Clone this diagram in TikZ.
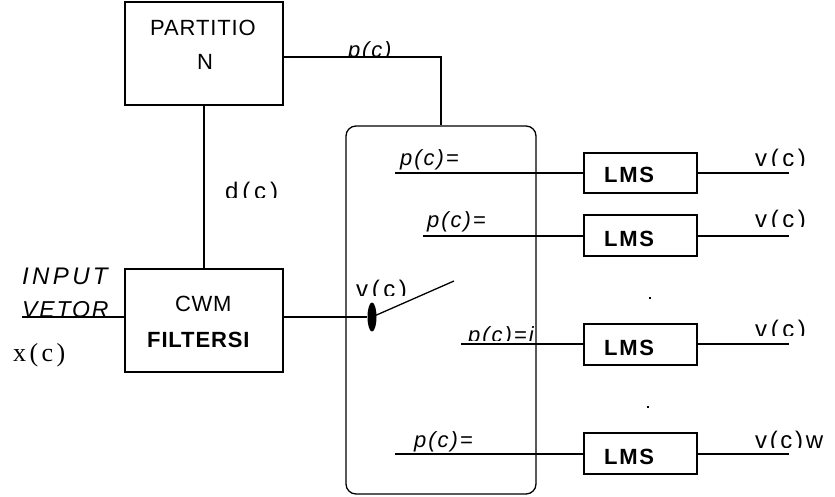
\documentclass[tikz,border=0pt]{standalone}
\usepackage{fontspec}
\setmainfont{Liberation Sans}
\newfontfamily\serifx{Liberation Serif}
\usetikzlibrary{shapes.geometric}
\tikzset{
  box/.style={draw, line width=1.3pt, inner sep=0pt},
  wire/.style={line width=1.3pt},
  lbl/.style={inner sep=0pt, anchor=base},
  lbll/.style={inner sep=0pt, anchor=base west},
  fs/.style 2 args={font=\fontsize{#1}{#1}\selectfont\addfontfeature{LetterSpace=#2}},
  fi/.style 2 args={font=\fontsize{#1}{#1}\selectfont\itshape\addfontfeature{LetterSpace=#2}},
  fb/.style 2 args={font=\fontsize{#1}{#1}\selectfont\bfseries\addfontfeature{LetterSpace=#2}},
  dotmark/.style={fill, inner sep=0pt, minimum size=2pt},
}
\begin{document}
\begin{tikzpicture}[x=1pt, y=-1pt]
\useasboundingbox (0,0) rectangle (835,497);

% blocks
\node[box, minimum width=158pt, minimum height=103pt] (part) at (204,53.5) {};
\node[box, minimum width=158pt, minimum height=103pt] (cwm) at (204,320.5) {};
\node[box, rounded corners=10pt, minimum width=190pt, minimum height=368pt] (sel) at (441,310) {};
\node[box, minimum width=113pt, minimum height=40pt] (lms1) at (640.5,173) {};
\node[box, minimum width=113pt, minimum height=41pt] (lms2) at (640.5,235.5) {};
\node[box, minimum width=113pt, minimum height=41pt] (lms3) at (640.5,344.5) {};
\node[box, minimum width=113pt, minimum height=41pt] (lms4) at (640.5,453.5) {};

% block texts
\node[lbll, fs={22}{4}] (t1) at (150,36) {PARTITIO};
\node[lbl, fs={22}{0}] (t2) at (205,70) {N};
\node[lbll, fs={22}{3}] (t3) at (175,311) {CWM};
\node[lbll, fb={22}{4}] (t4) at (147,347) {FILTERSI};
\node[lbll, fb={22}{8}] (l1) at (604,183) {LMS};
\node[lbll, fb={22}{8}] (l2) at (604,246) {LMS};
\node[lbll, fb={22}{8}] (l3) at (604,355) {LMS};
\node[lbll, fb={22}{8}] (l4) at (604,464) {LMS};

% connections
\coordinate (pc) at (441,57);
\draw[wire] (part.east |- pc) -- (pc) -- (pc |- sel.north);
\draw[wire] (part.south) -- (cwm.north);
\coordinate (in) at (22,317);
\draw[wire] (in) -- (in -| cwm.west);
\node[ellipse, fill, inner sep=0pt, minimum width=9pt, minimum height=29pt] (contact) at (372,317) {};
\draw[wire] (cwm.east |- contact) -- (contact.west);
\coordinate (swend) at (454,281);
\draw[wire] (contact.center) -- (swend);

\coordinate (r1) at (395,173);
\coordinate (r2) at (423,236);
\coordinate (r3) at (461,344);
\coordinate (r4) at (395,454);
\draw[wire] (r1) -- (r1 -| lms1.west);
\draw[wire] (r2) -- (r2 -| lms2.west);
\draw[wire] (r3) -- (r3 -| lms3.west);
\draw[wire] (r4) -- (r4 -| lms4.west);
\coordinate (o1) at (789,173);
\coordinate (o2) at (789,236);
\coordinate (o3) at (789,344);
\coordinate (o4) at (789,454);
\draw[wire] (o1 -| lms1.east) -- (o1);
\draw[wire] (o2 -| lms2.east) -- (o2);
\draw[wire] (o3 -| lms3.east) -- (o3);
\draw[wire] (o4 -| lms4.east) -- (o4);

\node[dotmark] (dt1) at (650,298) {};
\node[dotmark] (dt2) at (648,407) {};

% signal labels
\node[lbll, fi={24}{14}] (inp) at (22,284) {INPUT};
\node[lbll, fi={23}{8}] (vet) at (22,317) {VETOR};
\node[lbll, font=\fontsize{26}{26}\selectfont\serifx\addfontfeature{LetterSpace=13}] (xc) at (13,361) {x(c)};

\begin{scope}
  \clip (340,30) rectangle (410,56);
  \node[lbll, fi={22}{8}] (ptop) at (348,58) {p(c)};
\end{scope}
\begin{scope}
  \clip (220,170) rectangle (290,197.5);
  \node[lbll, fs={24}{16}] (dc) at (225,200) {d(c)};
\end{scope}
\node[lbll, fi={22}{9}] (p1) at (400,166) {p(c)=};
\node[lbll, fi={22}{9}] (p2) at (427,227) {p(c)=};
\begin{scope}
  \clip (460,315) rectangle (545,340);
  \node[lbll, fi={22}{9}] (p3) at (468,342) {p(c)=i};
\end{scope}
\node[lbll, fi={22}{9}] (p4) at (414,447) {p(c)=};
\begin{scope}
  \clip (350,265) rectangle (415,295);
  \node[lbll, fs={24}{15}] (vsw) at (356,297) {v(c)};
\end{scope}
\begin{scope}
  \clip (750,130) rectangle (835,166);
  \node[lbll, fs={24}{15}] (v1) at (755,167) {v(c)};
\end{scope}
\begin{scope}
  \clip (750,195) rectangle (835,226);
  \node[lbll, fs={24}{15}] (v2) at (755,227) {v(c)};
\end{scope}
\begin{scope}
  \clip (750,305) rectangle (835,335);
  \node[lbll, fs={24}{15}] (v3) at (755,337) {v(c)};
\end{scope}
\begin{scope}
  \clip (750,415) rectangle (835,447);
  \node[lbll, fs={24}{11}] (v4) at (755,448) {v(c)w};
\end{scope}
\end{tikzpicture}
\end{document}
